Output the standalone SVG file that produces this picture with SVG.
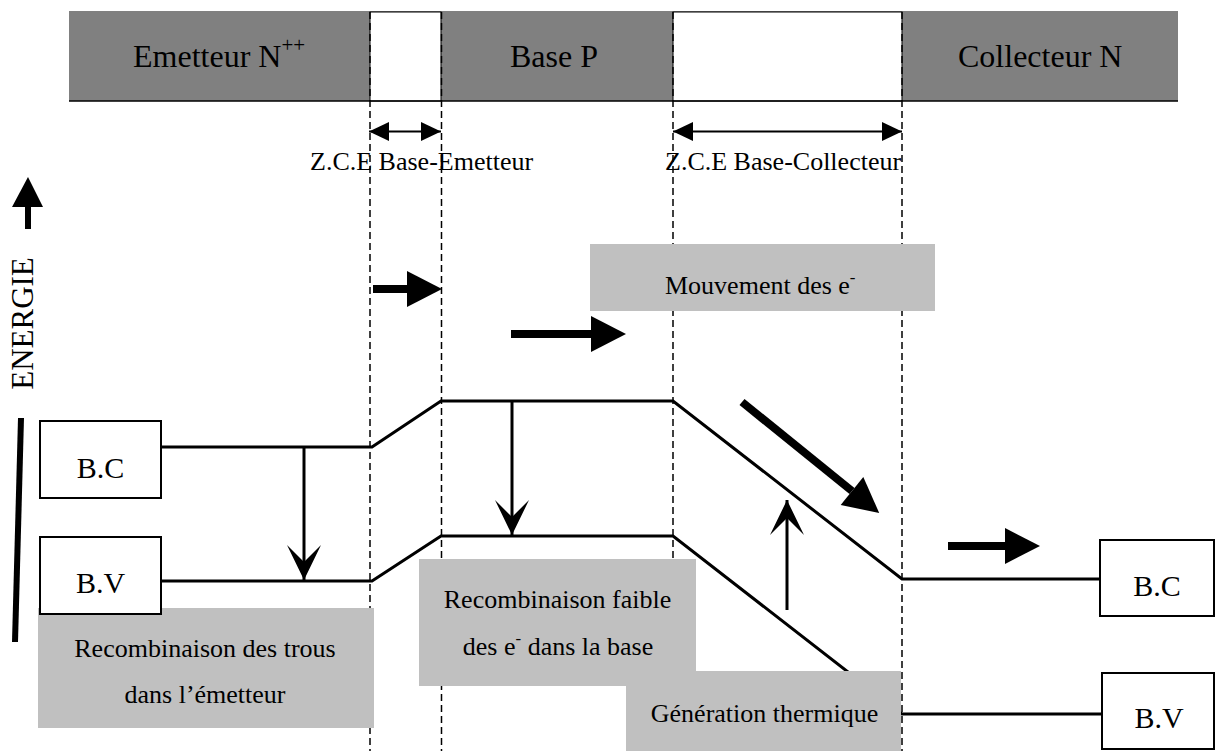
<svg xmlns="http://www.w3.org/2000/svg" width="1215" height="751" viewBox="0 0 1215 751">
<style>
text{font-family:"Liberation Serif","DejaVu Serif","Times New Roman",Times,serif;fill:#000}
.big{font-size:32px}
.box{font-size:30px}
.lbl{font-size:26px}
.sup{font-size:17px}
.dash{stroke:#000;stroke-width:1.5;stroke-dasharray:7 4;fill:none}
.band{stroke:#000;stroke-width:3;fill:none}
.gray{fill:#c0c0c0}
.wbox{fill:#fff;stroke:#000;stroke-width:2}
.thin{stroke:#000;stroke-width:3;fill:none}
.thick{stroke:#000;stroke-width:8;fill:none}
</style>
<defs>
<marker id="barb" markerUnits="userSpaceOnUse" viewBox="-36 -19 38 38" refX="0" refY="0" markerWidth="38" markerHeight="38" orient="auto" overflow="visible">
<path d="M0,0 L-35,-17 L-18,0 L-35,17 Z" fill="#000"/>
</marker>
<marker id="fat" markerUnits="userSpaceOnUse" viewBox="-1 -19 37 38" refX="0" refY="0" markerWidth="37" markerHeight="38" orient="auto" overflow="visible">
<path d="M0,-18 L35,0 L0,18 Z" fill="#000"/>
</marker>
<marker id="dbl" markerUnits="userSpaceOnUse" viewBox="-21 -10 22 20" refX="0" refY="0" markerWidth="22" markerHeight="20" orient="auto-start-reverse" overflow="visible">
<path d="M0,0 L-20,-9.5 L-20,9.5 Z" fill="#000"/>
</marker>
</defs>

<g id="top-bar">
<rect x="69" y="11" width="1109" height="90" fill="#808080"/>
<rect x="370" y="12" width="71" height="89" fill="#fff" stroke="#000" stroke-width="1"/>
<rect x="673" y="12" width="229" height="89" fill="#fff" stroke="#000" stroke-width="1"/>
<line x1="69" y1="101" x2="1178" y2="101" stroke="#000" stroke-width="1.5"/>
<text class="big" x="133" y="67" font-family="Liberation Serif, serif">Emetteur N<tspan font-size="21" dy="-15">++</tspan></text>
<text class="big" x="510" y="67" font-family="Liberation Serif, serif">Base P</text>
<text class="big" x="958" y="67" font-family="Liberation Serif, serif">Collecteur N</text>
</g>

<g id="zce">
<line class="dash" x1="370" y1="12" x2="370" y2="751"/>
<line class="dash" x1="441.5" y1="12" x2="441.5" y2="751"/>
<line class="dash" x1="673" y1="12" x2="673" y2="751"/>
<line class="dash" x1="902" y1="12" x2="902" y2="751"/>
<line x1="369" y1="131.5" x2="441" y2="131.5" stroke="#000" stroke-width="2" marker-start="url(#dbl)" marker-end="url(#dbl)"/>
<line x1="673" y1="131.5" x2="902" y2="131.5" stroke="#000" stroke-width="2" marker-start="url(#dbl)" marker-end="url(#dbl)"/>
<text class="lbl" x="310" y="170" font-family="Liberation Serif, serif">Z.C.E Base-Emetteur</text>
<text class="lbl" x="665" y="170" font-family="Liberation Serif, serif">Z.C.E Base-Collecteur</text>
</g>

<g id="energie">
<line x1="28" y1="229" x2="28" y2="205" stroke="#000" stroke-width="6"/>
<path d="M28,177 L43,207 L12,207 Z" fill="#000"/>
<text font-size="31" text-anchor="middle" font-family="Liberation Serif, serif" transform="translate(33,323.5) rotate(-90)">ENERGIE</text>
<line x1="21" y1="418" x2="15" y2="642" stroke="#000" stroke-width="6"/>
</g>

<g id="connectors">
<polyline class="band" points="161,447 372,447 441,401 673,401 902,579 1100,579"/>
<polyline class="band" points="161,581 372,581 441,536 673,536 902,714 1102,714"/>
<line class="thin" x1="304" y1="447" x2="304" y2="580" marker-end="url(#barb)"/>
<line class="thin" x1="512" y1="401" x2="512" y2="535" marker-end="url(#barb)"/>
<line class="thin" x1="787" y1="610" x2="787" y2="500" marker-end="url(#barb)"/>
<line class="thick" x1="373" y1="289" x2="407" y2="289" marker-end="url(#fat)"/>
<line class="thick" x1="511" y1="334" x2="591" y2="334" marker-end="url(#fat)"/>
<line class="thick" x1="742" y1="402" x2="852" y2="491" marker-end="url(#fat)"/>
<line class="thick" x1="948" y1="546" x2="1005" y2="546" marker-end="url(#fat)"/>
</g>

<g id="label-mouvement">
<rect class="gray" x="590" y="244" width="345" height="67"/>
<text class="lbl" x="665" y="294" font-family="Liberation Serif, serif">Mouvement des e<tspan class="sup" dy="-11">-</tspan></text>
</g>

<g id="label-recomb-trous">
<rect class="gray" x="38" y="608" width="336" height="120"/>
<text class="lbl" x="205" y="657" text-anchor="middle" font-family="Liberation Serif, serif">Recombinaison des trous</text>
<text class="lbl" x="205" y="703" text-anchor="middle" font-family="Liberation Serif, serif">dans l’émetteur</text>
</g>

<g id="label-recomb-faible">
<rect class="gray" x="419" y="559" width="277" height="127"/>
<text class="lbl" x="557.5" y="608" text-anchor="middle" font-family="Liberation Serif, serif">Recombinaison faible</text>
<text class="lbl" x="558" y="655" text-anchor="middle" font-family="Liberation Serif, serif">des e<tspan class="sup" dy="-11">-</tspan><tspan dy="11"> dans la base</tspan></text>
</g>

<g id="label-generation">
<rect class="gray" x="626" y="671" width="275" height="80"/>
<text class="lbl" x="764.5" y="722" text-anchor="middle" font-family="Liberation Serif, serif">Génération thermique</text>
</g>

<g id="bc-left">
<rect class="wbox" x="40" y="421" width="121" height="77"/>
<text class="box" x="100.5" y="478" text-anchor="middle" font-family="Liberation Serif, serif">B.C</text>
</g>
<g id="bv-left">
<rect class="wbox" x="40" y="537" width="121" height="77"/>
<text class="box" x="100.5" y="593" text-anchor="middle" font-family="Liberation Serif, serif">B.V</text>
</g>
<g id="bc-right">
<rect class="wbox" x="1100" y="540" width="114" height="76"/>
<text class="box" x="1157" y="596" text-anchor="middle" font-family="Liberation Serif, serif">B.C</text>
</g>
<g id="bv-right">
<rect class="wbox" x="1102" y="673" width="112" height="76"/>
<text class="box" x="1159" y="728" text-anchor="middle" font-family="Liberation Serif, serif">B.V</text>
</g>
</svg>
